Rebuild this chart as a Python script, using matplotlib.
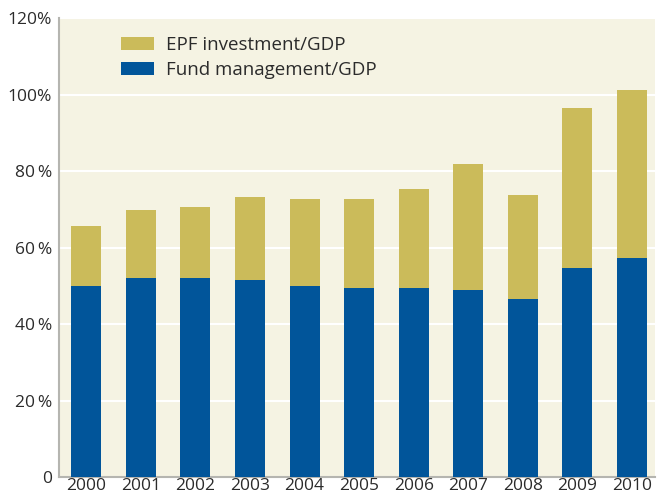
import matplotlib
matplotlib.use("Agg")
import matplotlib.pyplot as plt
from matplotlib.patches import Patch

plt.rcParams['font.family'] = ['Open Sans', 'DejaVu Sans']

years = ["2000", "2001", "2002", "2003", "2004", "2005", "2006", "2007", "2008", "2009", "2010"]
fund_mgmt = [50.0, 52.0, 52.0, 51.5, 50.0, 49.5, 49.5, 49.0, 46.5, 54.7, 57.2]
total = [65.6, 69.7, 70.6, 73.2, 72.7, 72.6, 75.2, 81.9, 73.6, 96.4, 101.1]
epf_invest = [t - f for t, f in zip(total, fund_mgmt)]
yticks = [0, 20, 40, 60, 80, 100, 120]
ytick_labels = ["0", "20\u2009%", "40\u2009%", "60\u2009%", "80\u2009%", "100%", "120%"]

blue = "#01559a"
gold = "#cbbb5a"
bg = "#f5f3e3"
text_color = "#2b2b2b"

fig = plt.figure(figsize=(6.58, 4.96), dpi=100)
ax = fig.add_axes([0.0897, 0.0383, 0.9057, 0.9254])
ax.set_facecolor(bg)

x = range(len(years))
ax.bar(x, fund_mgmt, width=0.55, color=blue, zorder=3)
ax.bar(x, epf_invest, width=0.55, bottom=fund_mgmt, color=gold, zorder=3)

ax.set_xlim(-0.5, 10.42)
ax.set_ylim(0, 120)
ax.set_yticks(yticks)
ax.set_yticklabels(ytick_labels)
ax.set_xticks(list(x))
ax.set_xticklabels(years)
ax.tick_params(axis='both', length=0, colors=text_color, labelsize=12.5)
ax.tick_params(axis='x', pad=1)
ax.tick_params(axis='y', pad=5)
for lbl in ax.get_xticklabels() + ax.get_yticklabels():
    lbl.set_fontweight('medium')
ax.grid(axis='y', color='white', linewidth=1.5, zorder=1)

for side in ['top', 'right']:
    ax.spines[side].set_visible(False)
for side in ['left', 'bottom']:
    ax.spines[side].set_color('#b5b5b0')
    ax.spines[side].set_linewidth(1.5)

handles = [Patch(facecolor=gold, label="EPF investment/GDP"),
           Patch(facecolor=blue, label="Fund management/GDP")]
ax.legend(handles=handles, loc='upper left', bbox_to_anchor=(0.075, 0.998),
          frameon=False, handlelength=1.8, handleheight=0.7,
          labelspacing=0.4, handletextpad=0.6, labelcolor=text_color,
          prop={'size': 13.5, 'weight': 'medium'})

fig.savefig("out.png", dpi=100)
